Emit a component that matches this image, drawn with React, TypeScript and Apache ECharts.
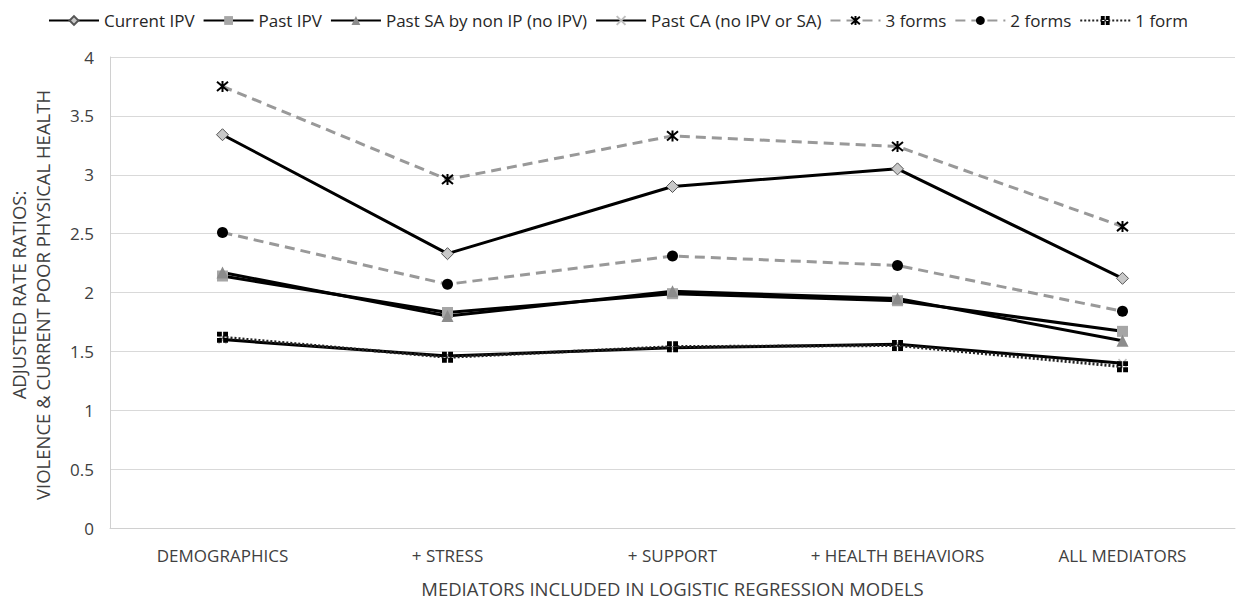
import React, { useEffect, useRef } from "react";
import * as echarts from "echarts";

const categories = ["DEMOGRAPHICS", "+ STRESS", "+ SUPPORT", "+ HEALTH BEHAVIORS", "ALL MEDIATORS"];
const currentIPV = [3.34, 2.33, 2.9, 3.05, 2.12];
const pastIPV = [2.14, 1.83, 1.99, 1.93, 1.67];
const pastSA = [2.17, 1.8, 2.01, 1.95, 1.59];
const pastCA = [1.6, 1.46, 1.53, 1.56, 1.4];
const threeForms = [3.75, 2.96, 3.33, 3.24, 2.56];
const twoForms = [2.51, 2.07, 2.31, 2.23, 1.84];
const oneForm = [1.62, 1.45, 1.54, 1.55, 1.37];
const yTicks = [0, 0.5, 1, 1.5, 2, 2.5, 3, 3.5, 4];

const FONT = "'Open Sans', 'Noto Sans', sans-serif";
const TXT = "#404040";

const asterisk = "path://M0,0L10,10M10,0L0,10M5,-1L5,11";
const xMark = "path://M0,0L10,10M10,0L0,10";
const quadSquare = "path://M0,0h4.4v4.4h-4.4zM5.6,0h4.4v4.4h-4.4zM0,5.6h4.4v4.4h-4.4zM5.6,5.6h4.4v4.4h-4.4z";

export default function App() {
  const ref = useRef<HTMLDivElement>(null);
  useEffect(() => {
    if (!ref.current) return;
    const chart = echarts.init(ref.current, null, { renderer: "svg" });
    const solid = (name: string, data: number[], symbol: string, size: number, fill: string, border: string, bw: number) => ({
      name,
      type: "line",
      data,
      symbol,
      symbolSize: size,
      lineStyle: { color: "#000", width: 3, type: "solid" },
      itemStyle: { color: fill, borderColor: border, borderWidth: bw },
      z: 3,
    });
    chart.setOption({
      animation: false,
      backgroundColor: "#fff",
      textStyle: { fontFamily: FONT },
      legend: {
        top: 7,
        left: "center",
        itemWidth: 50,
        itemHeight: 11,
        itemGap: 8,
        textStyle: { fontSize: 17, color: "#262626", fontFamily: FONT },
        data: ["Current IPV", "Past IPV", "Past SA by non IP (no IPV)", "Past CA (no IPV or SA)", "3 forms", "2 forms", "1 form"],
      },
      grid: { left: 110, right: 1, top: 57, bottom: 71, containLabel: false },
      xAxis: {
        type: "category",
        data: categories,
        boundaryGap: true,
        axisLine: { show: true, lineStyle: { color: "#d0d0d0", width: 1 } },
        axisTick: { show: false },
        axisLabel: { color: TXT, fontSize: 17, margin: 19, interval: 0, fontFamily: FONT },
        name: "MEDIATORS INCLUDED IN LOGISTIC REGRESSION MODELS",
        nameLocation: "middle",
        nameGap: 51,
        nameTextStyle: { color: TXT, fontSize: 18.5, fontFamily: FONT },
      },
      yAxis: {
        type: "value",
        min: yTicks[0],
        max: yTicks[yTicks.length - 1],
        interval: 0.5,
        axisLine: { show: true, lineStyle: { color: "#d0d0d0", width: 1 } },
        axisTick: { show: false },
        axisLabel: { color: TXT, fontSize: 17, margin: 16, fontFamily: FONT },
        splitLine: { lineStyle: { color: "#d9d9d9", width: 1 } },
      },
      graphic: [
        {
          type: "text",
          x: 30,
          y: 295,
          rotation: Math.PI / 2,
          style: {
            text: "ADJUSTED RATE RATIOS:\nVIOLENCE & CURRENT POOR PHYSICAL HEALTH",
            fill: TXT,
            font: `18.5px ${FONT}`,
            align: "center",
            verticalAlign: "middle",
            lineHeight: 24,
          },
        },
      ],
      series: [
        solid("Past CA (no IPV or SA)", pastCA, xMark, 8, "#bfbfbf", "#bfbfbf", 1.5),
        solid("Past IPV", pastIPV, "rect", 11, "#a6a6a6", "#a6a6a6", 0),
        solid("Past SA by non IP (no IPV)", pastSA, "triangle", 12, "#8c8c8c", "#8c8c8c", 0),
        {
          name: "1 form",
          type: "line",
          data: oneForm,
          symbol: quadSquare,
          symbolSize: 11,
          lineStyle: { color: "#222", width: 3, type: [2, 2] },
          itemStyle: { color: "#000", borderWidth: 0 },
          z: 4,
        },
        {
          name: "2 forms",
          type: "line",
          data: twoForms,
          symbol: "circle",
          symbolSize: 11,
          lineStyle: { color: "#999", width: 3, type: [10, 6] },
          itemStyle: { color: "#000", borderWidth: 0 },
          z: 3,
        },
        {
          name: "3 forms",
          type: "line",
          data: threeForms,
          symbol: asterisk,
          symbolSize: 11,
          lineStyle: { color: "#999", width: 3, type: [10, 6] },
          itemStyle: { color: "#000", borderColor: "#000", borderWidth: 2 },
          z: 3,
        },
        solid("Current IPV", currentIPV, "diamond", 12, "#c8c8c8", "#555", 1),
      ],
    });
    return () => chart.dispose();
  }, []);
  return <div ref={ref} style={{ width: 1236, height: 603, position: "absolute", left: 0, top: 0 }} />;
}
